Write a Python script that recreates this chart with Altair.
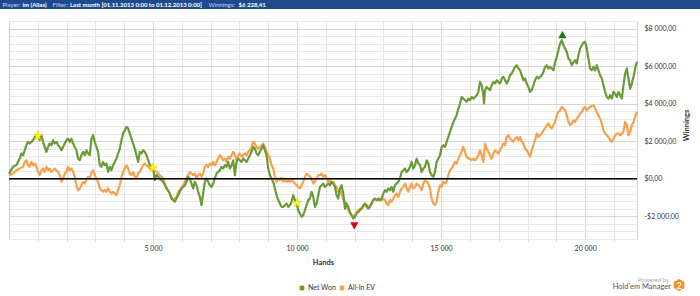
import altair as alt
import pandas as pd

# ---------------- data ----------------
NET_HANDS = [0, 140, 256, 372, 430, 488, 545, 603, 661, 719, 835, 928, 1009, 1066, 1124, 1182, 1240, 1298, 1356, 1414,
             1472, 1530, 1588, 1646, 1704, 1761, 1819, 1877, 1935, 1993, 2051, 2109, 2167, 2225, 2283, 2340, 2398, 2456,
             2514, 2572, 2630, 2688, 2746, 2804, 2862, 2919, 2977, 3035, 3093, 3151, 3209, 3267, 3325, 3383, 3441, 3499,
             3556, 3614, 3672, 3730, 3788, 3846, 3904, 3962, 4020, 4078, 4135, 4193, 4251, 4309, 4367, 4425, 4483, 4541,
             4599, 4657, 4715, 4772, 4830, 4888, 4946, 5004, 5062, 5120,
             5235, 5351, 5467, 5582, 5640, 5698, 5756, 5814, 5872, 5930, 5988, 6046, 6104, 6161, 6219, 6277, 6335, 6393,
             6451, 6509, 6567, 6625, 6683, 6740, 6798, 6856, 6914, 6972, 7030, 7088, 7146, 7204, 7262, 7319, 7377, 7435,
             7493, 7551, 7609, 7667, 7725, 7783, 7841, 7898, 7956, 8014, 8072, 8130, 8188, 8246, 8304, 8362, 8420, 8477,
             8535, 8593, 8651, 8709, 8767, 8825, 8883, 8941, 8999, 9056, 9114, 9172, 9230, 9288, 9346, 9404, 9462, 9520,
             9578, 9635, 9693, 9751, 9809, 9867, 9925, 9983, 10041, 10099, 10157, 10214, 10272, 10330, 10388, 10446,
             10504, 10562, 10620, 10678, 10736,
             10793, 10851, 10909, 10967, 11025, 11083, 11140, 11198, 11256, 11314, 11372, 11430, 11488, 11546, 11604,
             11662, 11719, 11777, 11835, 11893, 11951, 12009, 12067, 12125, 12183, 12241, 12298, 12356, 12414, 12472,
             12530, 12588, 12646, 12704, 12762, 12820, 12877, 12935, 12993, 13051, 13109, 13167, 13225, 13283, 13341,
             13399, 13456, 13514, 13572, 13630, 13688, 13746, 13804, 13862, 13920, 13978, 14035, 14093, 14151, 14209,
             14267, 14325, 14383, 14441, 14499, 14557, 14614, 14672, 14730, 14788, 14846, 14904, 14962, 15020, 15078,
             15136, 15193, 15251, 15309, 15367, 15425, 15483, 15541, 15599, 15657, 15715, 15772, 15830, 15888, 15946,
             16004, 16062, 16120, 16178, 16236, 16293,
             16351, 16409, 16467, 16490, 16525, 16583, 16641, 16698, 16756, 16814, 16872, 16930, 16988, 17046, 17104,
             17162, 17220, 17277, 17335, 17393, 17451, 17509, 17567, 17625, 17683, 17741, 17799, 17856, 17914, 17972,
             18030, 18088, 18146, 18204, 18262, 18320, 18378, 18435, 18493, 18551, 18609, 18667, 18725, 18783, 18841,
             18899, 18957, 19014, 19072, 19130, 19188, 19246, 19304, 19362, 19420, 19478, 19536, 19593, 19651, 19709,
             19767, 19825, 19883, 19941, 19999, 20057, 20115, 20172, 20230, 20288, 20346, 20404, 20462, 20520, 20578,
             20636, 20694, 20751, 20809, 20867, 20925, 20983, 21041, 21099, 21157, 21215, 21273, 21330, 21388, 21446,
             21504, 21562, 21620, 21678, 21736, 21794]
NET_WON = [280, 640, 730, 1080, 1350, 1260, 1520, 1790, 1970, 1880, 2060, 2320, 2250, 2060, 2320, 1970, 1700, 1440, 1700,
           1880, 1790, 2060, 1880, 1970, 1790, 1700, 1520, 1700, 1880, 2060, 2140, 1970, 2140, 1880, 1700, 1520, 1080, 990,
           1260, 1440, 1260, 1520, 1350, 1260, 2140, 2320, 1970, 1700, 1440, 730, 640, 900, 730, 820, 370, 640, 460, 730,
           900, 1080, 1350, 1610, 2060, 2410, 2590, 2770, 2680, 2410, 2140, 1880, 1610, 1260, 900, 1440, 1350, 1520, 1440,
           1260, 990, 730, 600, 560, -70, 200,
           20, -160, -510, -780, -1050, -1130, -1220, -1050, -870, -690, -510, -430, -340, -160, 110, 20, -250, -510, -160,
           -340, -690, -960, -1400, -780, -160, 20, -160, -340, -430, -250, 20, 280, 370, 460, 640, 550, 730, 640, 900,
           550, 730, 990, 200, 900, 1080, 990, 900, 1080, 990, 900, 1080, 1260, 1440, 1700, 1610, 1350, 1260, 1440, 1610,
           1790, 1520, 1260, 550, 200, 20, -160, -510, -870, -1130, -1310, -1490, -1490, -1400, -1310, -1490, -1400,
           -1220, -870, -1130, -1290, -1670, -1840, -2020, -1930, -1670, -1400, -1130, -1050, -690, -960, -1490, -1310,
           -870,
           -430, -340, -250, -430, -340, -250, -340, -160, -250, -430, -870, -1050, -510, -340, -780, -1580, -1310, -1490,
           -1760, -1930, -2110, -2020, -1840, -1760, -1670, -1580, -1400, -1310, -1400, -1580, -1490, -1310, -1130, -1050,
           -1130, -1050, -1130, -1050, -780, -600, -690, -510, -600, -430, -690, -340, -250, -160, 20, 370, 460, 550, 370,
           460, 640, 900, 550, 730, 1080, 820, 730, 370, 550, 640, 990, 820, 370, 200, 110, 370, 900, 1080, 1260, 1700,
           1790, 1700, 1970, 2230, 2500, 2770, 3030, 3210, 3390, 3740, 4010, 4360, 4270, 4180, 4100, 4270, 4180, 4360,
           4270, 4360, 4450, 4630,
           5160, 4980, 4450, 4010, 4720, 4890, 4800, 4720, 4980, 5160, 5070, 5250, 5160, 5070, 5340, 5430, 5250, 5070,
           5250, 5510, 5600, 5780, 5960, 6050, 5870, 5780, 5510, 5250, 5340, 5070, 4890, 4630, 4720, 4980, 5250, 5430,
           5340, 5430, 5510, 5690, 5960, 6050, 5870, 5960, 5870, 5780, 6220, 6490, 6840, 7200, 7380, 7110, 6930, 6760,
           6400, 6310, 6050, 6220, 6310, 6140, 6580, 6930, 7110, 7250, 7290, 6930, 6400, 5870, 5780, 5960, 5780, 6050,
           5780, 5510, 5340, 4980, 4630, 4360, 4270, 4450, 4270, 4630, 4540, 4360, 4630, 4450, 4270, 4980, 5600, 5870,
           5340, 4800, 5070, 5430, 5870, 6228]

EV_HANDS = [0, 140, 256, 372, 488, 545, 603, 661, 719, 777, 835, 893, 951, 1009, 1066, 1124, 1182, 1240, 1298, 1356, 1414,
            1472, 1530, 1588, 1646, 1704, 1761, 1819, 1877, 1935, 1993, 2051, 2109, 2167, 2225, 2283, 2340, 2398, 2456,
            2514, 2572, 2630, 2688, 2746, 2804, 2862, 2919, 2977, 3035, 3093, 3151, 3209, 3267, 3325, 3383, 3441, 3499,
            3556, 3614, 3672, 3730, 3788, 3846, 3904, 3962, 4020, 4078, 4135, 4193, 4251, 4309, 4367, 4425, 4483, 4541,
            4599, 4657, 4715, 4772, 4830, 4888, 4946, 5004, 5120,
            5235, 5351, 5409, 5467, 5525, 5582, 5640, 5698, 5756, 5814, 5872, 5930, 5988, 6046, 6104, 6161, 6219, 6277,
            6335, 6393, 6451, 6509, 6567, 6625, 6683, 6740, 6798, 6856, 6914, 6972, 7030, 7088, 7146, 7204, 7262, 7319,
            7377, 7435, 7493, 7551, 7609, 7667, 7725, 7783, 7841, 7898, 7956, 8014, 8072, 8130, 8188, 8246, 8304, 8362,
            8420, 8477, 8535, 8593, 8651, 8709, 8767, 8825, 8883, 8941, 8999, 9056, 9114, 9172, 9230, 9288, 9346, 9404,
            9462, 9520, 9578, 9635, 9693, 9751, 9809, 9867, 9925, 9983, 10041, 10099, 10157, 10214, 10272, 10330, 10388,
            10446, 10504, 10562, 10620, 10678, 10736,
            10793, 10851, 10909, 10967, 11025, 11083, 11140, 11198, 11256, 11314, 11372, 11430, 11488, 11546, 11604,
            11662, 11719, 11777, 11835, 11893, 11951, 12009, 12067, 12125, 12183, 12241, 12298, 12356, 12414, 12472,
            12530, 12588, 12646, 12704, 12762, 12820, 12877, 12935, 12993, 13051, 13109, 13167, 13225, 13283, 13341,
            13399, 13456, 13514, 13572, 13630, 13688, 13746, 13804, 13862, 13920, 13978, 14035, 14093, 14151, 14209,
            14267, 14325, 14383, 14441, 14499, 14557, 14614, 14672, 14730, 14788, 14846, 14904, 14962, 15020, 15078,
            15136, 15193, 15251, 15309, 15367, 15425, 15483, 15541, 15599, 15657, 15715, 15772, 15830, 15888, 15946,
            16004, 16062, 16120, 16178, 16236, 16293,
            16351, 16409, 16467, 16525, 16583, 16641, 16698, 16756, 16814, 16872, 16930, 16988, 17046, 17104, 17162,
            17220, 17277, 17335, 17393, 17451, 17509, 17567, 17625, 17683, 17741, 17799, 17856, 17914, 17972, 18030,
            18088, 18146, 18204, 18262, 18320, 18378, 18435, 18493, 18551, 18609, 18667, 18725, 18783, 18841, 18899,
            18957, 19014, 19072, 19130, 19188, 19246, 19304, 19362, 19420, 19478, 19536, 19593, 19651, 19709, 19767,
            19825, 19883, 19941, 19999, 20057, 20115, 20172, 20230, 20288, 20346, 20404, 20462, 20520, 20578, 20636,
            20694, 20751, 20809, 20867, 20925, 20983, 21041, 21099, 21157, 21215, 21273, 21330, 21388, 21446, 21504,
            21562, 21620, 21678, 21736, 21794]
ALL_IN_EV = [200, 280, 460, 550, 640, 900, 990, 730, 640, 900, 730, 820, 640, 370, 200, 460, 550, 370, 640, 460, 550,
             370, 460, 550, 460, 370, 200, -160, 20, 280, 370, 640, 460, 550, 370, 110, -340, -600, -510, -340, -160,
             -250, -70, 110, 20, 370, 460, 200, 20, -160, -510, -600, -690, -600, -690, -510, -690, -780, -690, -780,
             -870, -600, -340, 110, 370, 550, 730, 550, 280, 200, 370, 110, 20, 280, 370, 550, 730, 820, 730, 640, 550,
             640, 460, 370,
             200, 20, -250, -430, -600, -780, -960, -1130, -1050, -960, -690, -600, -430, -340, -160, 20, 200, 370, 280,
             200, 280, 20, 200, 280, 110, 280, 640, 730, 640, 820, 730, 900, 730, 900, 1080, 1260, 1170, 990, 1080, 900,
             1170, 1080, 1260, 1440, 1260, 990, 1260, 1350, 1170, 1260, 1350, 1260, 1440, 1520, 1700, 1970, 1880, 1700,
             1610, 1700, 1790, 1880, 1700, 1440, 1260, 1080, 730, 550, 110, -160, 20, -70, 50, -160, 20, -160, -70, -160,
             20, -160, -250, -340, -430, -510, -340, -160, 110, 280, 200, 110, 20, -250, -160, 20, 200,
             200, 280, 110, 200, 20, -160, -70, -250, -160, -340, -430, -690, -600, -780, -1130, -1220, -1490, -1670,
             -1840, -1930, -2020, -1930, -1760, -1670, -1580, -1580, -1490, -1400, -1490, -1580, -1400, -1310, -1130,
             -1050, -1130, -1130, -1050, -1130, -1050, -1130, -1310, -1400, -1130, -1220, -1050, -870, -780, -960, -690,
             -510, -430, -250, -510, -690, -430, -250, -510, -430, -250, -340, -430, -600, -250, -70, -160, -250, -510,
             -1050, -1310, -1400, -1220, -690, -340, -430, -160, -250, -160, 200, 460, 550, 730, 900, 820, 1080, 1260,
             1440, 1700, 1440, 1170, 1080, 1080, 990, 1080, 990, 1080, 1260,
             1520, 1260, 900, 1880, 1610, 1440, 1260, 1080, 1350, 1520, 1440, 1350, 1520, 1700, 1880, 1790, 2230, 2320,
             2140, 2060, 1970, 2140, 2230, 2060, 2230, 1970, 1880, 1610, 1520, 1350, 1170, 1520, 1790, 2060, 2410, 2230,
             2320, 2410, 2590, 2680, 2860, 2940, 2770, 2680, 2860, 3030, 3390, 3560, 3650, 3830, 3740, 3650, 3390, 3030,
             2860, 2940, 3120, 3030, 3210, 3300, 3480, 3560, 3740, 3830, 3650, 3740, 3830, 3880, 3920, 3740, 3560, 3390,
             3210, 2940, 2590, 2410, 2320, 2230, 2060, 1970, 2140, 2320, 2410, 2410, 2320, 2410, 2500, 3030, 2860, 2320,
             2500, 2860, 3030, 3300, 3560]

STAR_HANDS = [1000, 5000, 10000]
STAR_VALUES = [2290, 590, -1280]
MIN_HAND, MIN_MARK = 11986, -2500
MAX_HAND, MAX_MARK = 19211, 7680

SERIES = ["Net Won", "All-In EV"]
HEADER_PARTS = ["Player:", "im (Alias)", "Filter:", "Last month [01.11.2013 0:00 to 01.12.2013 0:00]",
                "Winnings:", "$6 228,41"]

# ---------------- styling ----------------
GREEN = "#6b9b37"
ORANGE = "#f8a04c"
FONT = "Lato"
W, H = 628, 218
PAD_L, PAD_T = 9, 21

net_df = pd.DataFrame({"hands": NET_HANDS, "value": NET_WON})
ev_df = pd.DataFrame({"hands": EV_HANDS, "value": ALL_IN_EV})
star_df = pd.DataFrame({"hands": STAR_HANDS, "value": STAR_VALUES})
min_df = pd.DataFrame({"hands": [MIN_HAND], "value": [MIN_MARK]})
max_df = pd.DataFrame({"hands": [MAX_HAND], "value": [MAX_MARK]})

xscale = alt.Scale(domain=[0, 21800], nice=False, zero=False)
yscale = alt.Scale(domain=[-3200, 8400], nice=False, zero=False)

x_axis = alt.Axis(
    values=list(range(1000, 21001, 1000)),
    labelExpr="datum.value % 5000 == 0 ? replace(format(datum.value, ','), ',', ' ') : ''",
    grid=True,
    gridColor={"condition": {"test": "datum.value % 5000 == 0", "value": "#d6d6d6"}, "value": "#e6e6e6"},
    domain=False, ticks=True, tickSize=3, tickColor="#dcdcdc",
    labelFont=FONT, labelFontSize=7, labelColor="#333333", labelPadding=2, labelFlush=False,
    title="Hands", titleFont=FONT, titleFontSize=7.5, titleFontWeight="bold", titleColor="#333333",
    titleY=23, titleBaseline="middle",
)
y_axis = alt.Axis(
    orient="right",
    values=list(range(-3200, 8401, 400)),
    labelExpr="datum.value % 2000 == 0 ? (datum.value < 0 ? '-' : '') + '$' + "
              "replace(replace(format(abs(datum.value), ',.2f'), ',', ' '), '.', ',') : ''",
    grid=True,
    gridColor={"condition": {"test": "datum.value % 2000 == 0", "value": "#d6d6d6"}, "value": "#e8e8e8"},
    domain=False, ticks=False, labelPadding=7, labelAlign="left",
    labelFont=FONT, labelFontSize=7, labelColor="#333333",
    title="Winnings", titleFont=FONT, titleFontSize=7.5, titleFontWeight="bold", titleColor="#333333",
    titleAngle=270, titleX=49, titleY=104, titleAlign="center", titleBaseline="middle",
)

X = alt.X("hands:Q", scale=xscale, axis=x_axis)
Y = alt.Y("value:Q", scale=yscale, axis=y_axis)

ev_line = alt.Chart(ev_df).mark_line(color=ORANGE, strokeWidth=2.2, strokeJoin="round").encode(x=X, y=Y)
net_line = alt.Chart(net_df).mark_line(color=GREEN, strokeWidth=2.2, strokeJoin="round").encode(x=X, y=Y)
zero_rule = alt.Chart(pd.DataFrame({"value": [0]})).mark_rule(color="black", strokeWidth=1.5).encode(y=Y)

STAR = ("M0,-1L0.2245,-0.309L0.951,-0.309L0.363,0.118L0.588,0.809L0,0.382"
        "L-0.588,0.809L-0.363,0.118L-0.951,-0.309L-0.2245,-0.309Z")
stars = alt.Chart(star_df).mark_point(shape=STAR, filled=True, size=95, color="#ffff00",
                                      stroke="#d8cc00", strokeWidth=0.6, opacity=1).encode(x=X, y=Y)
min_mark = alt.Chart(min_df).mark_point(shape="triangle-down", filled=True, size=70, color="#e0001a",
                                        opacity=1).encode(x=X, y=Y)
max_mark = alt.Chart(max_df).mark_point(shape="triangle-up", filled=True, size=70, color="#127c12",
                                        opacity=1).encode(x=X, y=Y)

# ---- legend (bottom centre) ----
leg_df = pd.DataFrame({"label": SERIES, "color": [GREEN, ORANGE],
                       "sx": [302 - PAD_L, 342 - PAD_L], "tx": [308 - PAD_L, 348 - PAD_L]})
leg_sq = alt.Chart(leg_df).mark_square(size=22, opacity=1).encode(
    x=alt.X("sx:Q", scale=None), y=alt.value(288 - PAD_T),
    color=alt.Color("color:N", scale=None))
leg_tx = alt.Chart(leg_df).mark_text(align="left", baseline="middle", font=FONT, fontSize=7,
                                     color="#333333").encode(
    x=alt.X("tx:Q", scale=None), y=alt.value(288 - PAD_T), text="label:N")

# ---- header bar ----
bar = alt.Chart(pd.DataFrame({"a": [0]})).mark_rect(color="#1f4b8e").encode(
    x=alt.value(-PAD_L), x2=alt.value(700 - PAD_L), y=alt.value(-PAD_T), y2=alt.value(9 - PAD_T))
hdr_df = pd.DataFrame({"t": HEADER_PARTS,
                       "hx": [2.5 - PAD_L, 22.5 - PAD_L, 52.5 - PAD_L, 70 - PAD_L, 208.5 - PAD_L, 238.5 - PAD_L],
                       "bold": [0, 1, 0, 1, 0, 1]})
hdr_norm = alt.Chart(hdr_df).transform_filter("datum.bold == 0").mark_text(
    align="left", baseline="middle", font=FONT, fontSize=6, color="#c9d5ea").encode(
    x=alt.X("hx:Q", scale=None), y=alt.value(5 - PAD_T), text="t:N")
hdr_bold = alt.Chart(hdr_df).transform_filter("datum.bold == 1").mark_text(
    align="left", baseline="middle", font=FONT, fontSize=6, fontWeight="bold", color="#ffffff").encode(
    x=alt.X("hx:Q", scale=None), y=alt.value(5 - PAD_T), text="t:N")

# ---- logo ----
one = pd.DataFrame({"a": [0]})
powered = alt.Chart(one).mark_text(align="right", baseline="middle", font=FONT, fontSize=6,
                                   color="#aaaaaa", text="Powered by").encode(
    x=alt.value(669 - PAD_L), y=alt.value(280 - PAD_T))
hem = alt.Chart(one).mark_text(align="right", baseline="middle", font=FONT, fontSize=7.5,
                               color="#555555", text="Hold'em Manager").encode(
    x=alt.value(671 - PAD_L), y=alt.value(287 - PAD_T))
HEX = "M0,-1L0.866,-0.5L0.866,0.5L0,1L-0.866,0.5L-0.866,-0.5Z"
hexa = alt.Chart(one).mark_point(shape=HEX, filled=True, size=150, color="#f2902a", opacity=1).encode(
    x=alt.value(679 - PAD_L), y=alt.value(285 - PAD_T))
two = alt.Chart(one).mark_text(align="center", baseline="middle", font=FONT, fontSize=9, fontWeight="bold",
                               color="#ffffff", text="2").encode(
    x=alt.value(679 - PAD_L), y=alt.value(285.5 - PAD_T))

chart = alt.layer(
    ev_line, net_line, zero_rule, stars, min_mark, max_mark,
    leg_sq, leg_tx, bar, hdr_norm, hdr_bold, powered, hem, hexa, two,
).properties(
    width=W, height=H,
    autosize=alt.AutoSizeParams(type="none"),
    padding={"left": PAD_L, "top": PAD_T, "right": 700 - PAD_L - W, "bottom": 296 - PAD_T - H},
    background="white",
).configure_view(stroke="#d4d4d4", strokeWidth=1)

chart.save("out.html", embed_options={"renderer": "svg", "actions": False})
